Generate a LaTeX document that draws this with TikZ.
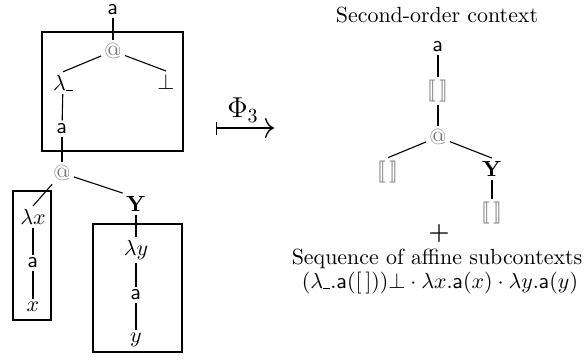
\documentclass[tikz,border=0pt]{standalone}
\usepackage{amsmath,amssymb,stmaryrd}
\usetikzlibrary{arrows.meta}
\newcommand{\usc}{\rule[-0.2pt]{3.6pt}{0.5pt}}
\begin{document}
\begin{tikzpicture}[x=0.5pt,y=-0.5pt,
  every node/.style={font=\fontsize{10.95}{13.6}\selectfont, inner sep=1.5pt},
  edge/.style={line width=0.55pt},
  frame/.style={draw, line width=1.4pt},
  app/.style={text=black!55},
  hole/.style={text=black!55}]
\useasboundingbox (0,0) rectangle (584,360);
% ---------- left tree ----------
\draw[frame] (42,32) rectangle (183,151);
\draw[frame] (13,191) rectangle (51,320);
\draw[frame] (93,224) rectangle (182,352);
\node (a1) at (113,10) {$\mathsf{a}$};
\node[app] (at1) at (113,51) {@};
\node (lam) at (63,83) {$\lambda\usc$};
\node (bot) at (166,82) {$\bot$};
\node (a2) at (62,129) {$\mathsf{a}$};
\node[app] (at2) at (62,173) {@};
\node (lamx) at (33,217) {$\lambda x$};
\node (a3) at (33,263) {$\mathsf{a}$};
\node (x) at (33,307) {$x$};
\node (Y) at (136,204) {$\mathbf{Y}$};
\node (lamy) at (136,250) {$\lambda y$};
\node (a4) at (136,295) {$\mathsf{a}$};
\node (y) at (136,340) {$y$};
\draw[edge] (a1) -- (at1);
\draw[edge] (at1) -- (lam.north);
\draw[edge] (at1) -- (bot.north);
\draw[edge] (lam) -- (a2);
\draw[edge] (a2) -- (at2);
\draw[edge] (at2) -- (lamx.north);
\draw[edge] (at2) -- (Y.north west);
\draw[edge] (lamx) -- (a3);
\draw[edge] (a3) -- (x);
\draw[edge] (Y) -- (lamy);
\draw[edge] (lamy) -- (a4);
\draw[edge] (a4) -- (y);
% ---------- arrow ----------
\coordinate (ms) at (216,128);
\coordinate (me) at (274,128);
\draw[line width=0.7pt, {Bar[width=6.5pt]}-{Computer Modern Rightarrow[length=4.5pt,width=10pt]}] (ms) -- (me);
\node[font=\fontsize{14.4}{18}\selectfont] (phi) at (243,110) {$\Phi_3$};
% ---------- right side ----------
\node (title) at (437,15) {Second-order context};
\node (a5) at (438,47) {$\mathsf{a}$};
\node[hole] (h1) at (438,91) {$\llbracket\,\rrbracket$};
\node[app] (at3) at (438,137) {@};
\node[hole] (h2) at (388,172) {$\llbracket\,\rrbracket$};
\node (Y2) at (492,169) {$\mathbf{Y}$};
\node[hole] (h3) at (492,213) {$\llbracket\,\rrbracket$};
\draw[edge] (a5) -- (h1);
\draw[edge] (h1) -- (at3);
\draw[edge] (at3) -- (h2.north);
\draw[edge] (at3) -- (Y2.north);
\draw[edge] (Y2) -- (h3);
\node[font=\fontsize{12}{14}\selectfont\boldmath] (plus) at (439,233) {$+$};
\node (seq) at (437,259) {Sequence of affine subcontexts};
\node (form) at (440,283) {$(\lambda\usc.\mathsf{a}([\,]))\bot\cdot\lambda x.\mathsf{a}(x)\cdot\lambda y.\mathsf{a}(y)$};
\end{tikzpicture}
\end{document}
